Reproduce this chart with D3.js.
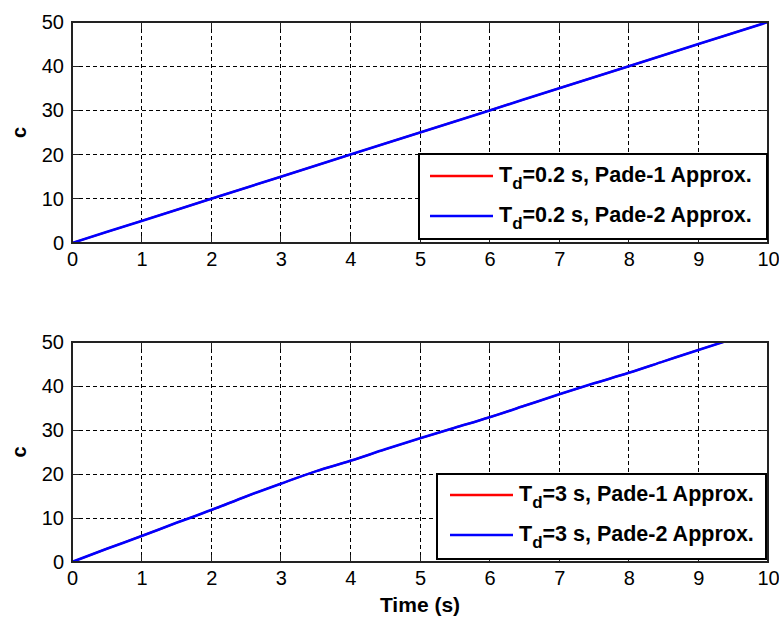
<!DOCTYPE html>
<html><head><meta charset="utf-8">
<script src="https://cdn.jsdelivr.net/npm/d3@7"></script>
<style>body{margin:0;background:#fff}svg{display:block}</style>
</head><body>
<svg id="chart" width="779" height="622"></svg>
<script>
// ---- data ----
const xTicks = [0,1,2,3,4,5,6,7,8,9,10];
const yTicks = [0,10,20,30,40,50];
const timeTop = [0,1,2,3,4,5,6,7,8,9,10];
const cTopPade1 = [0,5,10,15,20,25,30,35,40,45,50];
const cTopPade2 = [0,5,10,15,20,25,30,35,40,45,50];
const timeBot = [0,0.5,1,1.5,2,2.5,3,3.5,4,4.5,5,5.5,6,6.5,7,7.5,8,8.5,9,9.5,10];
const cBotPade1 = [0,3.0,5.9,8.9,11.8,14.9,17.8,20.6,23.0,25.6,28.1,30.5,32.9,35.5,38.1,40.6,43.0,45.6,48.2,50.7,53.2];
const cBotPade2 = [0,3.0,5.9,8.9,11.8,14.9,17.8,20.6,23.0,25.6,28.1,30.5,32.9,35.5,38.1,40.6,43.0,45.6,48.2,50.7,53.2];
const legendTop = ["=0.2 s, Pade-1 Approx.", "=0.2 s, Pade-2 Approx."];
const legendBot = ["=3 s, Pade-1 Approx.", "=3 s, Pade-2 Approx."];
const colors = ["#ff0000", "#0000ff"];
const xLabel = "Time (s)";
const yLabel = "c";

const svg = d3.select("#chart");
const font = "Arial, 'Liberation Sans', Helvetica, sans-serif";

function panel(id, top, bottom, time, s1, s2, legTexts, leg) {
  const x = d3.scaleLinear().domain([0,10]).range([72,768]);
  const y = d3.scaleLinear().domain([0,50]).range([bottom, top]);
  const g = svg.append("g");
  g.append("clipPath").attr("id", "clip"+id).append("rect")
    .attr("x",72).attr("y",top).attr("width",696).attr("height",bottom-top);
  // grid
  g.selectAll(".gx").data(xTicks.slice(1,-1)).join("line")
    .attr("x1",d=>x(d)).attr("x2",d=>x(d)).attr("y1",top).attr("y2",bottom)
    .attr("stroke","#000").attr("stroke-width",1).attr("stroke-dasharray","4,3").attr("shape-rendering","crispEdges");
  g.selectAll(".gy").data(yTicks.slice(1,-1)).join("line")
    .attr("y1",d=>y(d)).attr("y2",d=>y(d)).attr("x1",72).attr("x2",768)
    .attr("stroke","#000").attr("stroke-width",1).attr("stroke-dasharray","4,3").attr("shape-rendering","crispEdges");
  // tick marks inward
  const tl = 7;
  xTicks.forEach(d=>{
    g.append("line").attr("x1",x(d)).attr("x2",x(d)).attr("y1",bottom).attr("y2",bottom-tl).attr("stroke","#222").attr("shape-rendering","crispEdges");
    g.append("line").attr("x1",x(d)).attr("x2",x(d)).attr("y1",top).attr("y2",top+tl).attr("stroke","#222").attr("shape-rendering","crispEdges");
  });
  yTicks.forEach(d=>{
    g.append("line").attr("y1",y(d)).attr("y2",y(d)).attr("x1",72).attr("x2",72+tl).attr("stroke","#222").attr("shape-rendering","crispEdges");
    g.append("line").attr("y1",y(d)).attr("y2",y(d)).attr("x1",768).attr("x2",768-tl).attr("stroke","#222").attr("shape-rendering","crispEdges");
  });
  // axes labels via d3 axes
  const ax = g.append("g").attr("transform",`translate(0,${bottom})`)
    .call(d3.axisBottom(x).tickValues(xTicks).tickSize(0).tickPadding(9).tickFormat(d3.format("d")));
  ax.select(".domain").remove();
  ax.selectAll("text").attr("font-family",font).attr("font-size",20).attr("fill","#000");
  const ay = g.append("g").attr("transform",`translate(72,0)`)
    .call(d3.axisLeft(y).tickValues(yTicks).tickSize(0).tickPadding(8).tickFormat(d3.format("d")));
  ay.select(".domain").remove();
  ay.selectAll("text").attr("font-family",font).attr("font-size",20).attr("fill","#000");
  // lines
  const line = d3.line().curve(d3.curveMonotoneX).x((d,i)=>x(time[i])).y(d=>y(d));
  const lg = g.append("g").attr("clip-path",`url(#clip${id})`);
  [s1,s2].forEach((s,k)=>{
    lg.append("path").datum(s).attr("d",line).attr("fill","none")
      .attr("stroke",colors[k]).attr("stroke-width",k===1?2.6:2);
  });
  // box
  g.append("rect").attr("x",72).attr("y",top).attr("width",696).attr("height",bottom-top)
    .attr("fill","none").attr("stroke","#222").attr("stroke-width",1.2).attr("shape-rendering","crispEdges");
  // y label
  g.append("text").attr("transform",`translate(26,${(top+bottom)/2}) rotate(-90)`)
    .attr("text-anchor","middle").attr("font-family",font).attr("font-weight","bold")
    .attr("font-size",20).text(yLabel);
  // legend
  g.append("rect").attr("x",leg.x0).attr("y",leg.y0).attr("width",leg.x1-leg.x0).attr("height",leg.y1-leg.y0)
    .attr("fill","#fff").attr("stroke","#000").attr("stroke-width",1.2).attr("shape-rendering","crispEdges");
  legTexts.forEach((t,k)=>{
    const by = leg.rows[k];
    g.append("line").attr("x1",leg.lx).attr("x2",leg.lx+63).attr("y1",by-6).attr("y2",by-6)
      .attr("stroke",colors[k]).attr("stroke-width",2.6);
    const tx = g.append("text").attr("x",leg.lx+69).attr("y",by)
      .attr("font-family",font).attr("font-weight","bold").attr("font-size",21.5).attr("fill","#000");
    tx.append("tspan").text("T");
    tx.append("tspan").attr("dy",7).attr("font-size",17).text("d");
    tx.append("tspan").attr("dy",-7).text(t);
  });
  return {x,y};
}

panel("a", 22, 243, timeTop, cTopPade1, cTopPade2, legendTop,
  {x0:419, x1:767, y0:154, y1:239, lx:430, rows:[182,222]});
panel("b", 342, 562, timeBot, cBotPade1, cBotPade2, legendBot,
  {x0:437, x1:766, y0:474, y1:559, lx:450, rows:[501,541]});

svg.append("text").attr("x",(72+768)/2).attr("y",612).attr("text-anchor","middle")
  .attr("font-family",font).attr("font-weight","bold").attr("font-size",21).text(xLabel);
</script>
</body></html>
